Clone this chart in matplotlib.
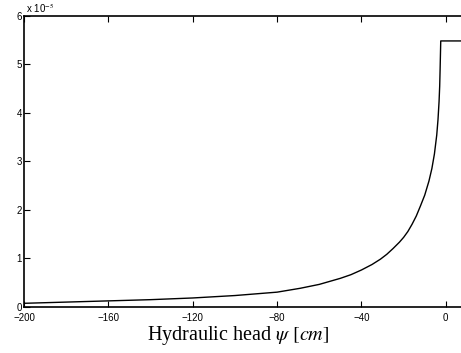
import matplotlib
matplotlib.use("Agg")
import matplotlib.pyplot as plt

plt.rcParams['font.family'] = ['Liberation Sans', 'DejaVu Sans']
plt.rcParams['mathtext.fontset'] = 'stix'

# Hydraulic head [cm] and hydraulic conductivity (units of 1e-5)
head = [-200, -180, -160, -140, -120, -100, -80, -69, -60, -50, -45, -40, -35,
        -31, -28, -25, -22, -20, -18, -16, -14, -12, -10, -8,
        -6.6, -5.4, -4.3, -3.7, -3.2, -2.9, -2.7, -2.4, 0, 10]
K = [0.07, 0.095, 0.12, 0.145, 0.18, 0.23, 0.30, 0.38, 0.46, 0.585, 0.66, 0.757, 0.87,
     0.98, 1.08, 1.20, 1.33, 1.43, 1.55, 1.70, 1.87, 2.08, 2.30, 2.59,
     2.85, 3.15, 3.54, 3.86, 4.23, 4.55, 4.90, 5.48, 5.48, 5.48]

xticks = [-200, -160, -120, -80, -40, 0]
yticks = [0, 1, 2, 3, 4, 5, 6]

fig = plt.figure(figsize=(4.61, 3.53), dpi=100)
ax = fig.add_axes([24/461, 46.3/353, (466.9-24)/461, 0.8243])
ax.plot(head, K, color='black', lw=1.0)
ax.set_xlim(-200, 10)
ax.set_ylim(0, 6)
ax.set_xticks(xticks)
ax.set_yticks(yticks)
ax.tick_params(direction='in', length=4, width=0.8, labelsize=7,
               top=True, right=True)
ax.tick_params(axis='x', pad=4.5)
ax.tick_params(axis='y', pad=1.5)
for s in ax.spines.values():
    s.set_linewidth(1.2)
ax.text(0.004, 1.004, r'x 10$^{-5}$', transform=ax.transAxes, fontsize=7,
        ha='left', va='bottom')
fig.text(238/461, 1-340/353, r'Hydraulic head $\psi$ $[cm]$', fontsize=14.5,
         family='Liberation Serif', ha='center', va='baseline')
fig.savefig('out.png', dpi=100)
